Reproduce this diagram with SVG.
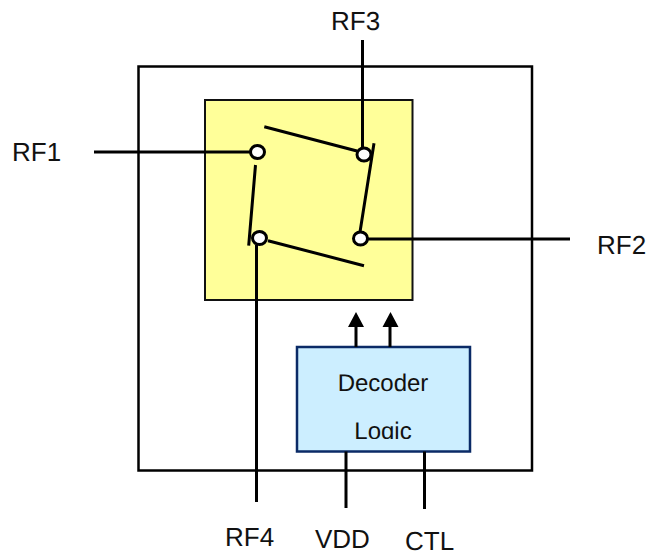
<svg xmlns="http://www.w3.org/2000/svg" width="651" height="556" viewBox="0 0 651 556">
<style>
.l{stroke:#000;stroke-width:3;fill:none}
.t{font-family:"Liberation Sans",Arial,sans-serif;font-size:26px;fill:#111;text-rendering:geometricPrecision}
.d{font-family:"Liberation Sans",Arial,sans-serif;font-size:24px;fill:#111;text-anchor:middle;text-rendering:geometricPrecision}
.n{fill:#fff;stroke:#000;stroke-width:3}
</style>
<defs><clipPath id="c"><rect x="298" y="348" width="171" height="91"/></clipPath></defs>
<rect width="651" height="556" fill="#fff"/>
<g id="chip"><rect x="138.500" y="66.500" width="393.500" height="404" fill="#fff" stroke="#000" stroke-width="2.500"/></g>
<g id="switch"><rect x="205" y="100" width="207.500" height="200" fill="#ffff99" stroke="#111" stroke-width="2"/></g>
<g id="decoder"><rect x="297" y="347" width="173" height="104.500" fill="#cceeff" stroke="#0a2a66" stroke-width="2.500"/>
<g clip-path="url(#c)"><text class="d" x="383" y="391">Decoder</text><text class="d" x="383" y="439">Logic</text></g></g>
<g id="connectors">
<path class="l" d="M94 152H250M362.500 40V148M368 239H570M256.500 245V502M346 451.500V508M424.500 451.500V509M356 347V325M390 347V325"/>
<path class="l" d="M264.300 126.700L357 151M374 143.300L360 232M255.500 165L248.700 245.700M268 240.700L364 265.700"/>
<path d="M356 312L364 327H348ZM390.500 312L398.500 327H382.500Z" fill="#000"/>
</g>
<g id="p1"><ellipse class="n" cx="257.500" cy="152" rx="7" ry="6.500"/></g>
<g id="p3"><ellipse class="n" cx="364" cy="154.500" rx="7" ry="6.500"/></g>
<g id="p4"><ellipse class="n" cx="259.500" cy="238" rx="7" ry="6.500"/></g>
<g id="p2"><ellipse class="n" cx="360.500" cy="238.500" rx="7" ry="6.500"/></g>
<g id="labels">
<text class="t" x="12" y="161">RF1</text>
<text class="t" x="331" y="30">RF3</text>
<text class="t" x="597" y="254">RF2</text>
<text class="t" x="225" y="546">RF4</text>
<text class="t" x="315" y="548">VDD</text>
<text class="t" x="405" y="550">CTL</text>
</g>
</svg>
